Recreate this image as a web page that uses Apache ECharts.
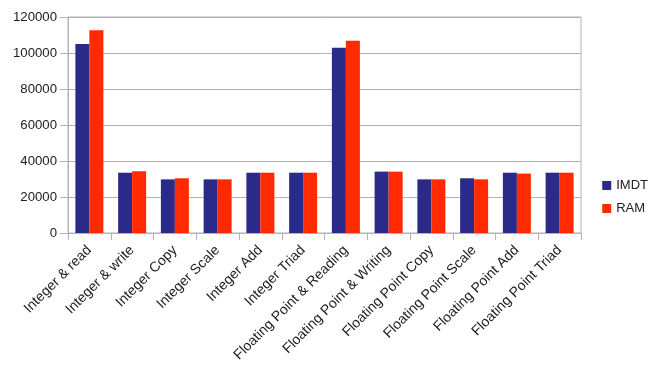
<!DOCTYPE html>
<html><head><meta charset="utf-8">
<script src="https://cdn.jsdelivr.net/npm/echarts@6/dist/echarts.min.js"></script>
<style>html,body{margin:0;padding:0;background:#fff}#c{width:671px;height:373px}</style>
</head><body><div id="c"></div>
<script>
var categories = ["Integer & read","Integer & write","Integer Copy","Integer Scale","Integer Add","Integer Triad","Floating Point & Reading","Floating Point & Writing","Floating Point Copy","Floating Point Scale","Floating Point Add","Floating Point Triad"];
var imdt = [105000,33500,29800,29800,33500,33500,102900,34100,29800,30400,33500,33500];
var ram  = [112700,34300,30400,29800,33500,33500,106800,34100,29800,29800,33000,33500];
var yTicks = [0,20000,40000,60000,80000,100000,120000];

var chart = echarts.init(document.getElementById('c'));
var font = 'Liberation Sans, Arial, sans-serif';
chart.setOption({
  animation:false,
  textStyle:{fontFamily:font},
  grid:{left:68,right:90,top:17,bottom:140,containLabel:false,show:true,borderColor:'#b3b3b3',borderWidth:1},
  legend:{orient:'vertical',right:18,top:174,itemWidth:9,itemHeight:9,itemGap:10,icon:'rect',
    textStyle:{fontSize:13,color:'#222',fontFamily:font},data:['IMDT','RAM']},
  xAxis:{type:'category',data:categories,
    axisLine:{lineStyle:{color:'#b3b3b3'}},
    axisTick:{show:true,length:7,lineStyle:{color:'#b3b3b3'}},
    axisLabel:{rotate:45,interval:0,fontSize:14,color:'#222',margin:15,fontFamily:font}},
  yAxis:{type:'value',min:yTicks[0],max:yTicks[yTicks.length-1],interval:20000,
    axisLine:{show:true,lineStyle:{color:'#b3b3b3'}},
    axisTick:{show:true,length:8,lineStyle:{color:'#b3b3b3'}},
    splitLine:{lineStyle:{color:'#b3b3b3'}},
    axisLabel:{fontSize:13.2,color:'#222',margin:11,fontFamily:font,formatter:function(v){return String(v);}}},
  series:[
    {name:'IMDT',type:'bar',data:imdt,barWidth:14,barGap:'0%',itemStyle:{color:'#2a2a88'}},
    {name:'RAM',type:'bar',data:ram,barWidth:14,barGap:'0%',itemStyle:{color:'#ff2a00'}}
  ]
});
</script></body></html>
